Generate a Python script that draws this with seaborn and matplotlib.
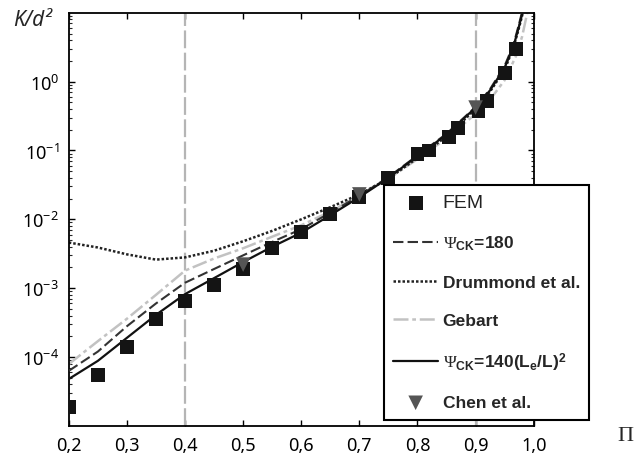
import seaborn as sns
import matplotlib.pyplot as plt
import pandas as pd

# values
pi_fem = [0.2, 0.25, 0.3, 0.35, 0.4, 0.45, 0.5, 0.55, 0.6, 0.65, 0.7, 0.75,
          0.8, 0.82, 0.855, 0.87, 0.905, 0.92, 0.95, 0.97]
k_fem = [1.9e-5, 5.5e-5, 1.4e-4, 3.6e-4, 6.6e-4, 1.1e-3, 1.9e-3, 3.8e-3, 6.6e-3,
         1.2e-2, 2.1e-2, 4.0e-2, 9.0e-2, 0.10, 0.155, 0.21, 0.38, 0.53, 1.35, 3.0]

pi_chen = [0.5, 0.7, 0.9]
k_chen = [2.2e-3, 2.3e-2, 0.42]

pi_curve = [0.2, 0.25, 0.3, 0.35, 0.4, 0.45, 0.5, 0.55, 0.6, 0.65, 0.7, 0.75,
            0.8, 0.85, 0.9, 0.925, 0.95, 0.965, 0.975, 0.982]
k_psi180 = [6.3e-5, 1.2e-4, 2.8e-4, 6.0e-4, 1.2e-3, 1.9e-3, 3.0e-3, 4.7e-3, 7.2e-3,
            1.25e-2, 2.2e-2, 4.1e-2, 8.5e-2, 0.175, 0.43, 0.78, 1.7, 3.4, 7.0, 12.0]
k_drummond = [4.6e-3, 3.9e-3, 3.1e-3, 2.6e-3, 2.8e-3, 3.5e-3, 4.8e-3, 6.8e-3, 1.0e-2,
              1.5e-2, 2.3e-2, 3.9e-2, 7.8e-2, 0.16, 0.40, 0.72, 1.5, 3.1, 6.2, 10.5]
k_psi140 = [4.8e-5, 8.8e-5, 1.9e-4, 4.1e-4, 8.2e-4, 1.4e-3, 2.4e-3, 4.0e-3, 6.4e-3,
            1.15e-2, 2.1e-2, 4.0e-2, 8.3e-2, 0.17, 0.42, 0.75, 1.6, 3.2, 6.5, 11.0]

pi_gebart = [0.2, 0.25, 0.3, 0.35, 0.4, 0.45, 0.5, 0.55, 0.6, 0.65, 0.7, 0.75,
             0.8, 0.85, 0.9, 0.925, 0.95, 0.97, 0.98, 0.99]
k_gebart = [7.9e-5, 1.7e-4, 3.6e-4, 8.0e-4, 1.8e-3, 2.7e-3, 3.8e-3, 5.6e-3, 8.2e-3,
            1.3e-2, 2.2e-2, 3.9e-2, 7.5e-2, 0.15, 0.34, 0.55, 1.05, 2.4, 4.5, 11.0]

x_ticks = [0.2, 0.3, 0.4, 0.5, 0.6, 0.7, 0.8, 0.9, 1.0]
x_labels = ['0,2', '0,3', '0,4', '0,5', '0,6', '0,7', '0,8', '0,9', '1,0']
y_ticks = [1e-4, 1e-3, 1e-2, 1e-1, 1e0]
marked_pi = [0.4, 0.9]

label_order = ['FEM', r'$\Psi_{\mathbf{CK}}$=180', 'Drummond et al.', 'Gebart',
               r'$\Psi_{\mathbf{CK}}$=140(L$_{\mathbf{e}}$/L)$^{\mathbf{2}}$', 'Chen et al.']

sns.set_theme(style="ticks")
plt.rcParams['font.family'] = ['Noto Sans', 'DejaVu Sans']
plt.rcParams['mathtext.fontset'] = 'custom'
plt.rcParams['mathtext.rm'] = 'Liberation Serif'
plt.rcParams['mathtext.bf'] = 'Liberation Sans:bold'
plt.rcParams['mathtext.it'] = 'Liberation Serif:italic'

fig = plt.figure(figsize=(6.43, 4.6), dpi=100)
ax = fig.add_axes([0.107, 0.072, 0.723, 0.898])

for p in marked_pi:
    ax.axvline(p, color='#b5b5b5', lw=1.6, ls=(0, (8, 2)), zorder=1)

sns.lineplot(x=pi_gebart, y=k_gebart, ax=ax, color='#c2c2c2', lw=1.8,
             linestyle=(0, (6, 1.5, 1.5, 1.5)), label=label_order[3], sort=False, zorder=2)
sns.lineplot(x=pi_curve, y=k_drummond, ax=ax, color='#222222', lw=1.8,
             linestyle=(0, (1, 0.8)), label=label_order[2], sort=False, zorder=2)
sns.lineplot(x=pi_curve, y=k_psi180, ax=ax, color='#333333', lw=1.5,
             linestyle=(0, (5, 2)), label=label_order[1], sort=False, zorder=3)
sns.lineplot(x=pi_curve, y=k_psi140, ax=ax, color='#111111', lw=1.6,
             label=label_order[4], sort=False, zorder=3)
sns.scatterplot(x=pi_fem, y=k_fem, ax=ax, marker='s', s=100, color='#141414',
                edgecolor='none', label=label_order[0], zorder=4)
sns.scatterplot(x=pi_chen, y=k_chen, ax=ax, marker='v', s=110, color='#555555',
                edgecolor='none', label=label_order[5], zorder=5)

ax.set_yscale('log')
ax.set_xlim(0.2, 1.0)
ax.set_ylim(1e-5, 10)
ax.set_xticks(x_ticks)
ax.set_xticklabels(x_labels)
ax.set_yticks(y_ticks)
ax.tick_params(axis='both', which='major', direction='in', length=4, width=1,
               top=True, right=True, labelsize=13, colors='black', pad=7)
ax.tick_params(axis='y', which='minor', direction='in', length=2, width=0.8, right=True)
for s in ax.spines.values():
    s.set_linewidth(1.3)
    s.set_color('black')

handles, labels = ax.get_legend_handles_labels()
hmap = dict(zip(labels, handles))
leg = ax.legend([hmap[l] for l in label_order], label_order,
                loc='lower left', bbox_to_anchor=(0.677, 0.0145), borderaxespad=0,
                frameon=True, fancybox=False, edgecolor='black', facecolor='white',
                framealpha=1, handlelength=2.6, handletextpad=0.25, labelspacing=1.3,
                borderpad=0.55,
                prop={'family': 'Liberation Sans', 'weight': 'bold', 'size': 12.5})
leg.get_frame().set_linewidth(1.5)
leg.set_zorder(10)
fem_text = leg.get_texts()[0]
fem_text.set_fontweight('normal')
fem_text.set_fontsize(14)
fem_text.set_color('#222222')

fig.text(0.02, 0.955, 'K/d²', style='italic', fontsize=15, va='center', ha='left')
fig.text(0.972, 0.05, 'Π', family='Liberation Serif', fontsize=16, va='center', ha='center')

fig.savefig('out.png', dpi=100)
